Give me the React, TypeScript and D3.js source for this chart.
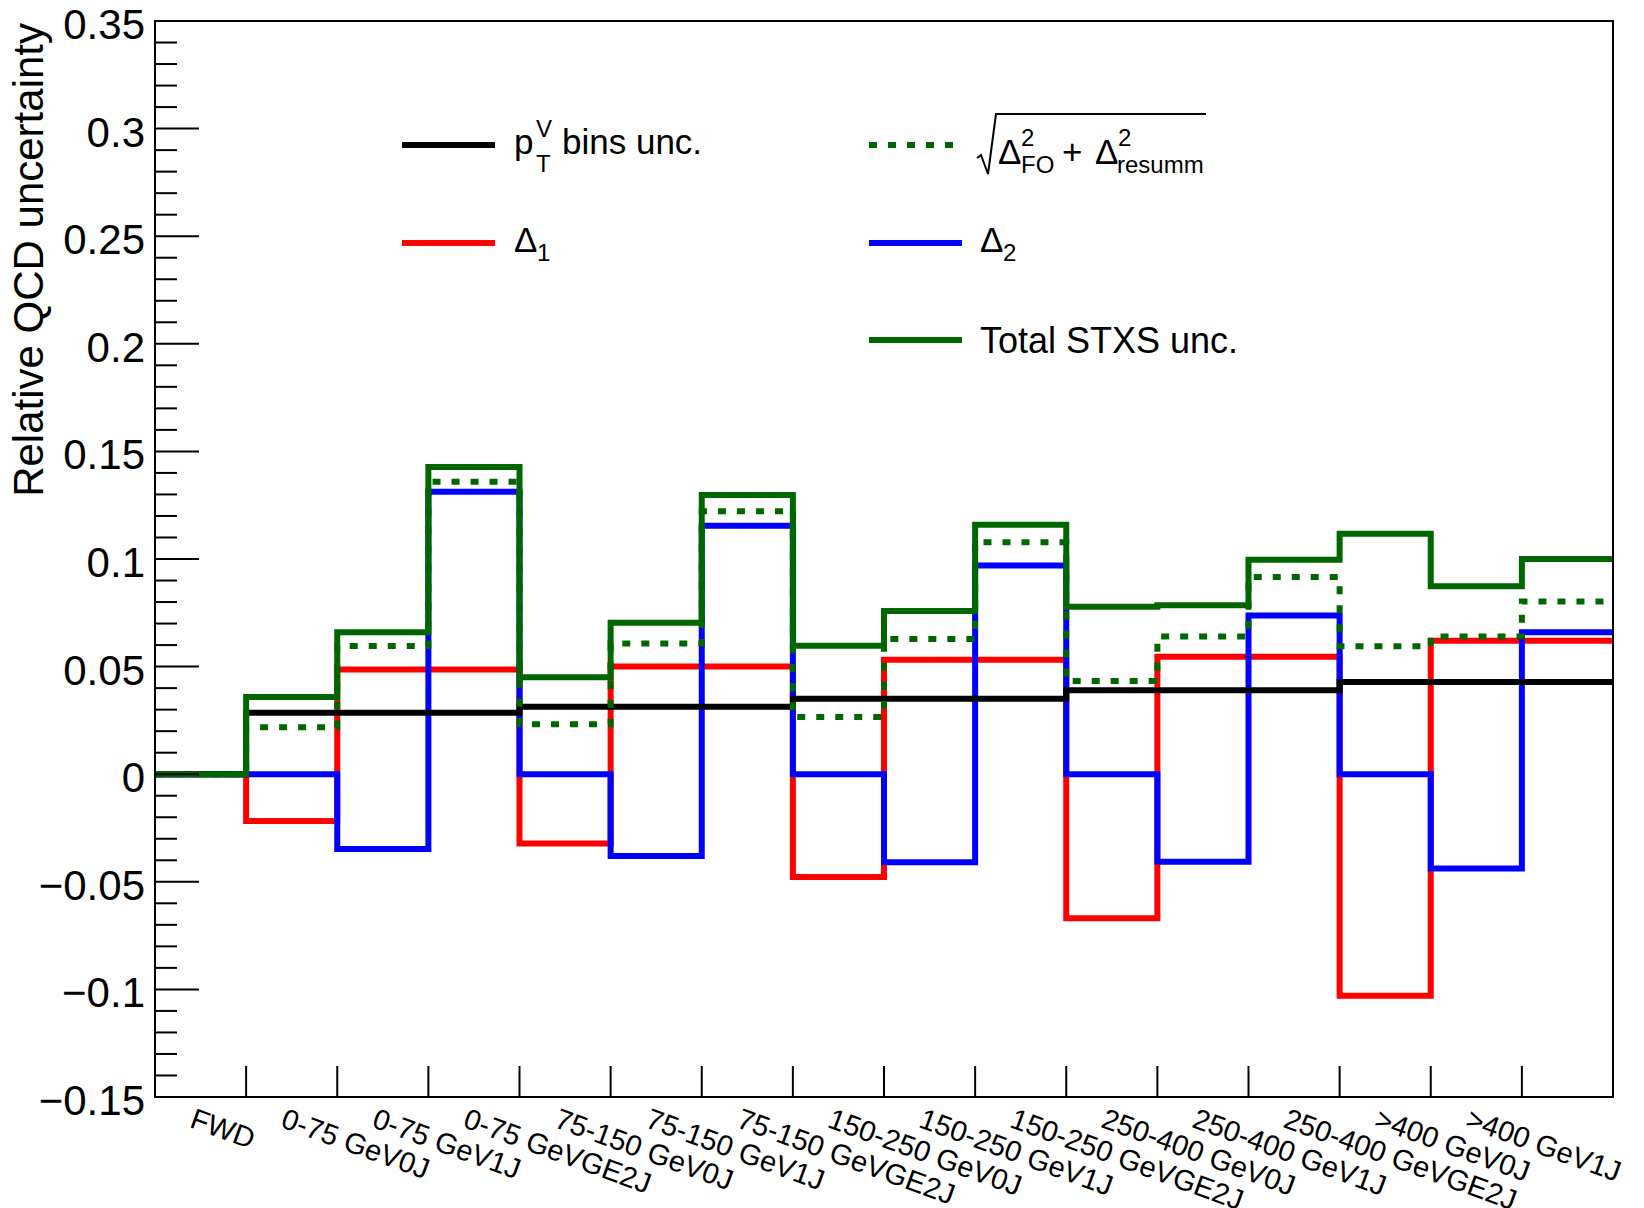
import React, { useRef, useEffect } from "react";
import * as d3 from "d3";

const categories = [
  "FWD",
  "0-75 GeV0J",
  "0-75 GeV1J",
  "0-75 GeVGE2J",
  "75-150 GeV0J",
  "75-150 GeV1J",
  "75-150 GeVGE2J",
  "150-250 GeV0J",
  "150-250 GeV1J",
  "150-250 GeVGE2J",
  "250-400 GeV0J",
  "250-400 GeV1J",
  "250-400 GeVGE2J",
  ">400 GeV0J",
  ">400 GeV1J",
  "",
];

// pT^V bins unc.
const ptBins = [
  0, 0.0285, 0.0285, 0.0285, 0.0314, 0.0314, 0.0314, 0.0351, 0.0351, 0.0351,
  0.039, 0.039, 0.039, 0.0429, 0.0429, 0.0429,
];
// Delta_1
const delta1 = [
  0, -0.0218, 0.0486, 0.0486, -0.0322, 0.05, 0.05, -0.0478, 0.0532, 0.0532,
  -0.0669, 0.0546, 0.0546, -0.1029, 0.062, 0.062,
];
// Delta_2
const delta2 = [
  0, 0, -0.0348, 0.1312, 0, -0.038, 0.1155, 0, -0.0409, 0.097, 0, -0.0407,
  0.0738, 0, -0.0438, 0.066,
];
// sqrt(Delta_FO^2 + Delta_resumm^2)
const foResumm = [
  0, 0.0218, 0.0596, 0.1359, 0.0232, 0.0607, 0.1222, 0.0266, 0.0628, 0.1078,
  0.0433, 0.064, 0.0916, 0.0594, 0.064, 0.0803,
];
// Total STXS unc.
const totalStxs = [
  0, 0.0359, 0.066, 0.1428, 0.045, 0.0704, 0.1297, 0.0597, 0.0758, 0.1159,
  0.0778, 0.0785, 0.0997, 0.1117, 0.0873, 0.1,
];

const FONT = "'Liberation Sans', Arial, Helvetica, sans-serif";
const GREEN = "#006600";

function App() {
  const canvas = useRef<SVGSVGElement>(null);

  useEffect(() => {
    const width = 1644;
    const height = 1208;
    const margin = { top: 21, right: 31, bottom: 111, left: 155 };

    const svg = d3.select(canvas.current);
    svg.selectAll("*").remove();
    svg.attr("font-family", FONT);

    const x = d3
      .scaleLinear()
      .domain([0, categories.length])
      .range([margin.left, width - margin.right]);
    const y = d3
      .scaleLinear()
      .domain([-0.15, 0.35])
      .range([height - margin.bottom, margin.top]);

    const stepLine = (vals: number[]) => {
      const pts: [number, number][] = vals.map((v, i) => [i, v]);
      pts.push([vals.length, vals[vals.length - 1]]);
      return d3
        .line<[number, number]>()
        .x((d) => x(d[0]))
        .y((d) => y(d[1]))
        .curve(d3.curveStepAfter)(pts);
    };

    const gHist = svg.append("g").attr("fill", "none").attr("stroke-width", 6);
    gHist.append("path").attr("d", stepLine(delta1)).attr("stroke", "#ff0000");
    gHist.append("path").attr("d", stepLine(delta2)).attr("stroke", "#0000ff");
    gHist.append("path").attr("d", stepLine(ptBins)).attr("stroke", "#000");
    gHist
      .append("path")
      .attr("d", stepLine(foResumm))
      .attr("stroke", GREEN)
      .attr("stroke-dasharray", "8 11");
    gHist.append("path").attr("d", stepLine(totalStxs)).attr("stroke", GREEN);

    // frame
    svg
      .append("rect")
      .attr("x", margin.left)
      .attr("y", margin.top)
      .attr("width", width - margin.left - margin.right)
      .attr("height", height - margin.top - margin.bottom)
      .attr("fill", "none")
      .attr("stroke", "#000")
      .attr("stroke-width", 2);

    // y axis ticks
    const isMajor = (d: number) => Math.abs(Math.round(d * 100)) % 5 === 0;
    svg
      .append("g")
      .selectAll("line")
      .data(y.ticks(50))
      .join("line")
      .attr("x1", margin.left)
      .attr("x2", (d) => margin.left + (isMajor(d) ? 44 : 22))
      .attr("y1", (d) => y(d))
      .attr("y2", (d) => y(d))
      .attr("stroke", "#000")
      .attr("stroke-width", 2);

    const fmt = d3.format(".2~f");
    svg
      .append("g")
      .selectAll("text")
      .data(y.ticks(10))
      .join("text")
      .attr("x", 145)
      .attr("y", (d) => y(d) + 18)
      .attr("text-anchor", "end")
      .attr("font-size", 42)
      .text((d) => fmt(d));

    // x axis ticks at bin edges
    svg
      .append("g")
      .selectAll("line")
      .data(d3.range(1, categories.length))
      .join("line")
      .attr("x1", (d) => x(d))
      .attr("x2", (d) => x(d))
      .attr("y1", height - margin.bottom)
      .attr("y2", height - margin.bottom - 31)
      .attr("stroke", "#000")
      .attr("stroke-width", 2);

    svg
      .append("g")
      .selectAll("text")
      .data(categories)
      .join("text")
      .attr(
        "transform",
        (_, i) => `translate(${x(i + 0.5) - 5}, ${height - margin.bottom + 10}) rotate(20)`
      )
      .attr("dy", "0.72em")
      .attr("font-size", 29)
      .text((d) => d);

    // y title
    svg
      .append("text")
      .attr("transform", "translate(43, 23) rotate(-90)")
      .attr("text-anchor", "end")
      .attr("font-size", 42)
      .text("Relative QCD uncertainty");

    // legend
    const leg = svg.append("g");
    const legLine = (x1: number, x2: number, yy: number, color: string, dash?: string) => {
      const l = leg
        .append("line")
        .attr("x1", x1)
        .attr("x2", x2)
        .attr("y1", yy)
        .attr("y2", yy)
        .attr("stroke", color)
        .attr("stroke-width", 6);
      if (dash) l.attr("stroke-dasharray", dash);
    };
    const legText = (tx: number, ty: number, size: number, s: string) =>
      leg.append("text").attr("x", tx).attr("y", ty).attr("font-size", size).text(s);

    legLine(402, 495, 145, "#000");
    legText(514, 154, 35, "p");
    legText(536, 137, 24, "V");
    legText(536, 172, 24, "T");
    legText(562, 154, 35, "bins unc.");

    legLine(402, 495, 243, "#ff0000");
    legText(514, 252, 35, "\u0394");
    legText(537, 261, 24, "1");

    legLine(869, 955, 145, GREEN, "8 11");
    leg
      .append("path")
      .attr("d", "M977,158 L981,155 L988,174 L996,114 L1206,114")
      .attr("fill", "none")
      .attr("stroke", "#000")
      .attr("stroke-width", 2);
    legText(998, 164, 35, "\u0394");
    legText(1021, 146, 24, "2");
    legText(1021, 173, 24, "FO");
    legText(1062, 164, 35, "+");
    legText(1095, 164, 35, "\u0394");
    legText(1118, 146, 24, "2");
    legText(1117, 173, 24, "resumm");

    legLine(869, 962, 243, "#0000ff");
    legText(980, 252, 35, "\u0394");
    legText(1003, 261, 24, "2");

    legLine(869, 962, 340, GREEN);
    legText(980, 353, 36, "Total STXS unc.");
  }, []);

  return (
    <svg
      ref={canvas}
      width={1644}
      height={1208}
      style={{ position: "absolute", left: 0, top: 0, display: "block", background: "#fff" }}
    />
  );
}

export default App;
